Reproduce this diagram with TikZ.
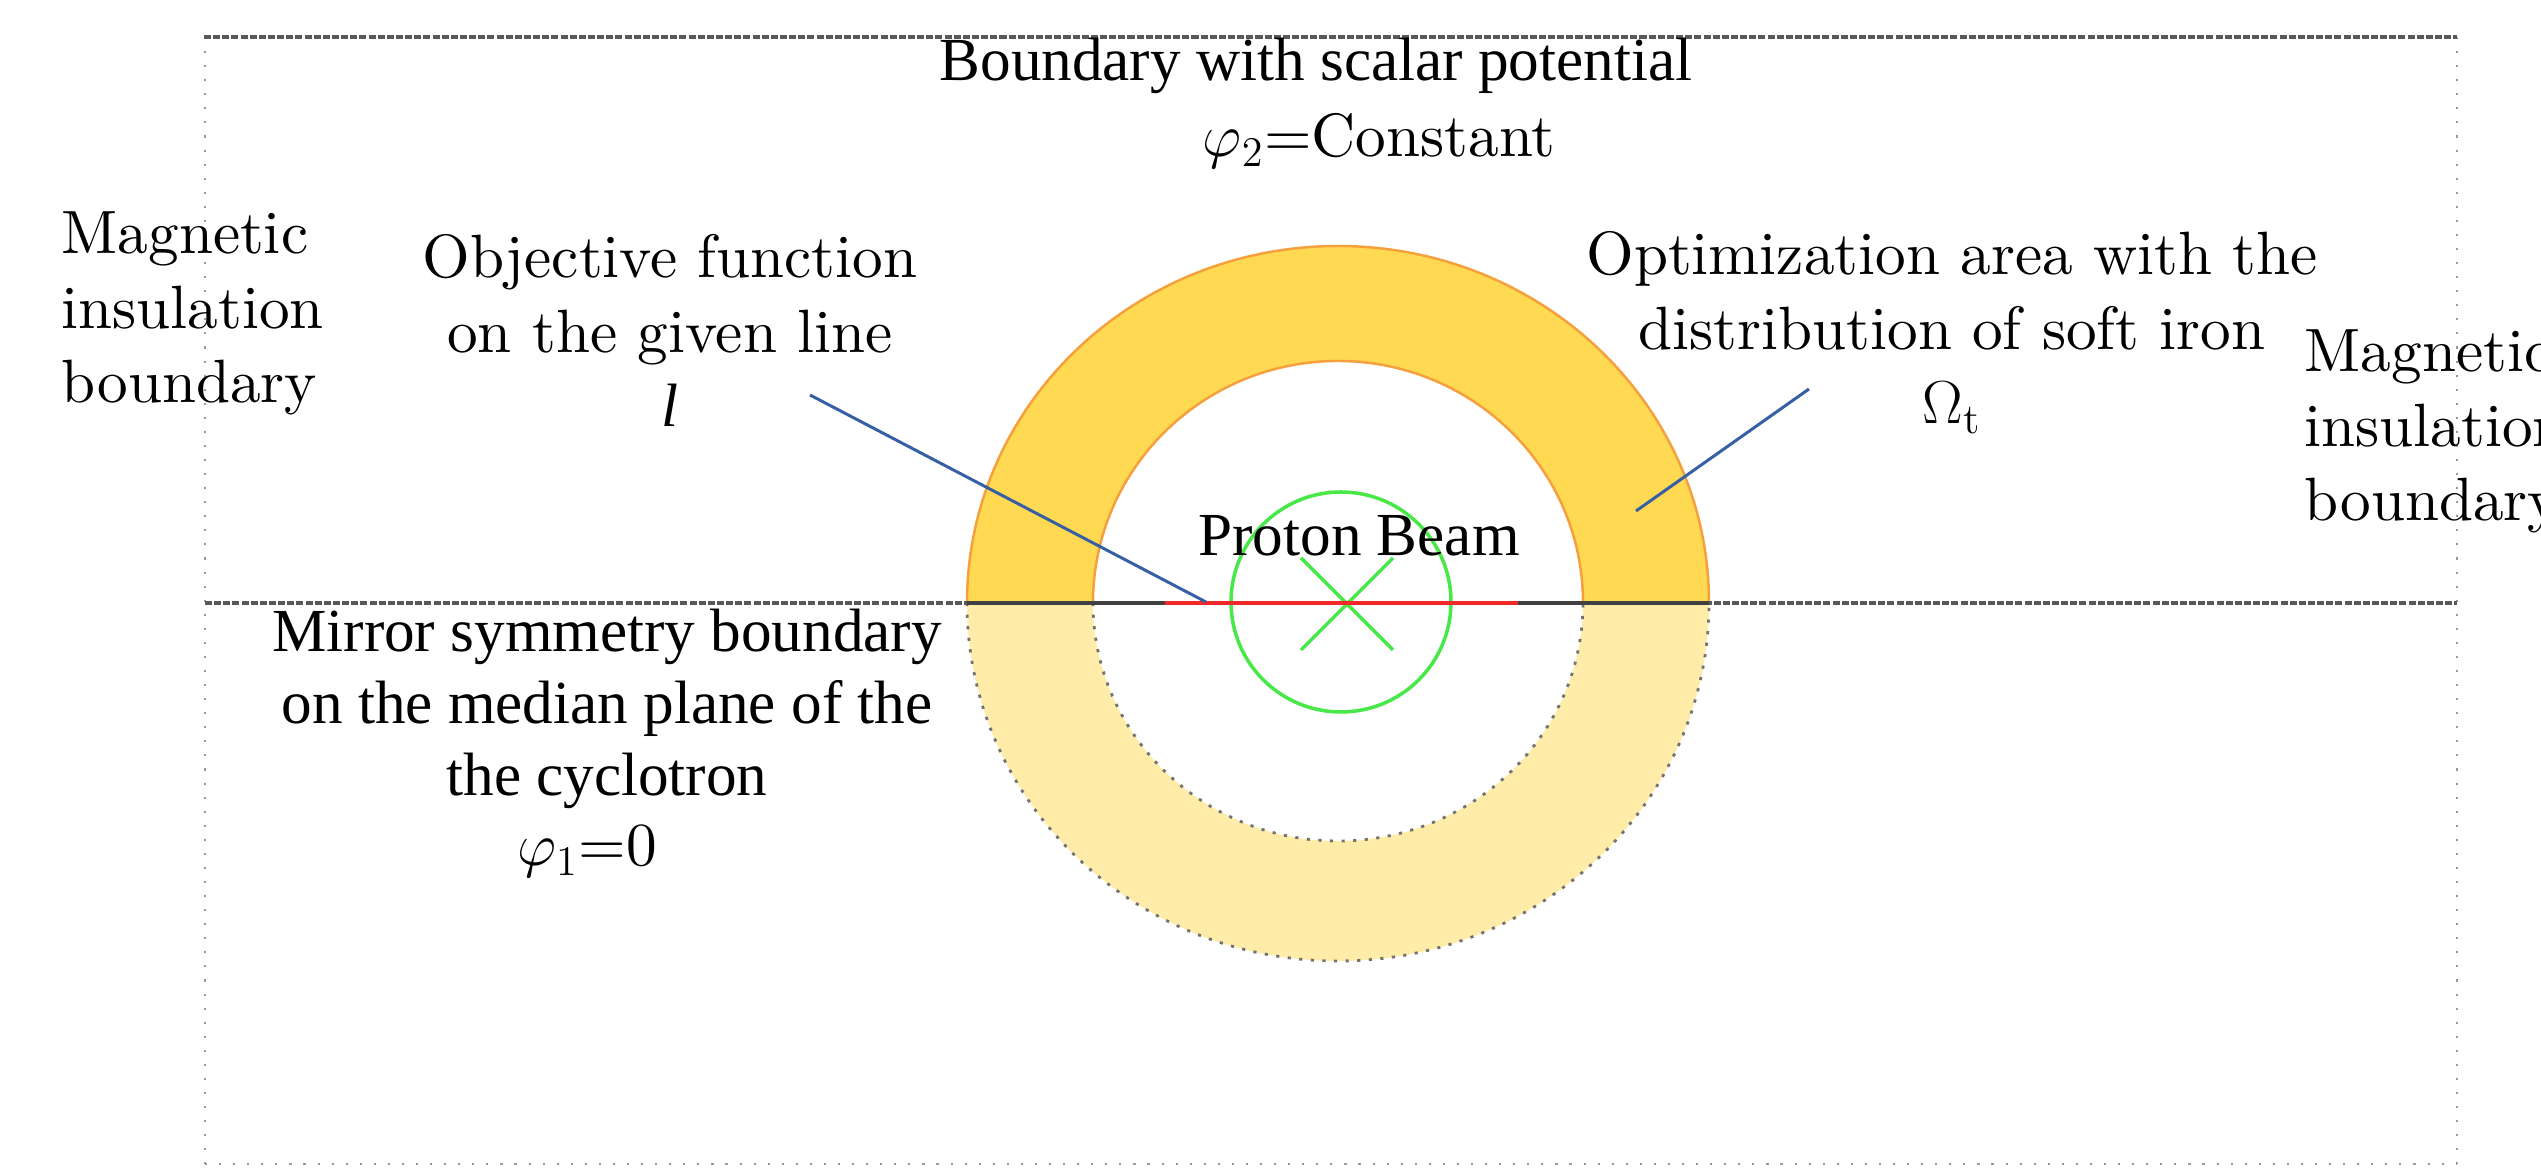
\documentclass[tikz,border=0pt]{standalone}
\usepackage{fontspec}
\newfontfamily\libserif{Liberation Serif}
\newfontfamily\lmten{lmroman10-regular.otf}
\definecolor{goldfill}{RGB}{255,217,82}
\definecolor{palegold}{RGB}{255,236,168}
\definecolor{orangeedge}{RGB}{245,160,60}
\definecolor{beamgreen}{RGB}{72,232,72}
\definecolor{redline}{RGB}{240,40,40}
\definecolor{leaderblue}{RGB}{55,95,165}
\tikzset{
  lmtext/.style={font=\lmten\fontsize{17.4}{21.2}\selectfont, inner sep=0pt, align=center},
  tstext/.style={font=\libserif\fontsize{17.4}{20.5}\selectfont, inner sep=0pt, align=center},
  heavyline/.style={draw=black!65, line width=1.4pt, dash pattern=on 2pt off 0.6pt},
  lightline/.style={draw=gray!80, line width=0.8pt, dash pattern=on 0.6pt off 3.4pt},
  ghost/.style={draw=gray!90!black, line width=0.8pt, dash pattern=on 0.9pt off 2.4pt},
  rim/.style={draw=orangeedge, line width=0.7pt},
  leader/.style={draw=leaderblue, line width=0.85pt},
  beam/.style={draw=beamgreen, line width=1pt}
}
\begin{document}
\begin{tikzpicture}[x=0.01cm,y=0.01cm]
\useasboundingbox (0,0) rectangle (2541,-1168);
% lower (mirrored) half of the annulus
\fill[palegold] (967,-603) arc[start angle=180, end angle=360, x radius=371, y radius=358]
  -- (1583,-603) arc[start angle=0, end angle=-180, x radius=245, y radius=238] -- cycle;
\draw[ghost] (967,-603) arc[start angle=180, end angle=360, x radius=371, y radius=358];
\draw[ghost] (1093,-603) arc[start angle=180, end angle=360, x radius=245, y radius=238];
% upper half: optimization area
\fill[goldfill] (967,-603) arc[start angle=180, end angle=0, x radius=371, y radius=357]
  -- (1583,-603) arc[start angle=0, end angle=180, x radius=245, y radius=242] -- cycle;
\draw[rim] (967,-603) arc[start angle=180, end angle=0, x radius=371, y radius=357];
\draw[rim] (1093,-603) arc[start angle=180, end angle=0, x radius=245, y radius=242];
% outer boundaries
\draw[lightline] (205,-37) -- (205,-1165);
\draw[lightline] (2457,-37) -- (2457,-1165);
\draw[lightline] (205,-1164) -- (2457,-1164);
\draw[heavyline] (204,-37) -- (2457,-37);
\draw[heavyline] (205,-603) -- (2457,-603);
\draw[draw=black!75, line width=1pt] (967,-603) -- (1709,-603);
% proton beam
\draw[beam] (1341,-602) circle[radius=110];
\draw[beam] (1301,-558) -- (1393,-650);
\draw[beam] (1393,-558) -- (1301,-650);
% objective line
\draw[draw=redline, line width=1.4pt] (1165,-603) -- (1518,-603);
% texts
\node[tstext, anchor=base] (bwsp) at (1316,-81) {Boundary with scalar potential};
\node[lmtext, anchor=base] (phitwo) at (1379,-157) {$\varphi_2$=Constant};
\node[lmtext, align=left, anchor=north west] (magl) at (61,-211) {Magnetic\\insulation\\boundary};
\node[lmtext, align=left, anchor=north west] (magr) at (2304,-329) {Magnetic\\insulation\\boundary};
\node[lmtext, anchor=north] (obj) at (670,-234) {Objective function\\on the given line\\{\libserif\itshape l}};
\node[lmtext, anchor=north] (opt) at (1952,-231) {Optimization area with the\\distribution of soft iron\\$\Omega_{\mathrm{t}}$};
\node[tstext, anchor=base] (proton) at (1359,-556) {Proton Beam};
\node[tstext, anchor=north] (mirror) at (607,-608) {Mirror symmetry boundary\\on the median plane of the\\the cyclotron};
\node[lmtext, anchor=base] (phione) at (587,-866) {$\varphi_1$=0};
% leaders
\coordinate (objfrom) at (810,-395);
\coordinate (objto) at (1206,-602);
\coordinate (optfrom) at (1809,-389);
\coordinate (optto) at (1636,-511);
\draw[leader] (objfrom) -- (objto);
\draw[leader] (optfrom) -- (optto);
\end{tikzpicture}
\end{document}
